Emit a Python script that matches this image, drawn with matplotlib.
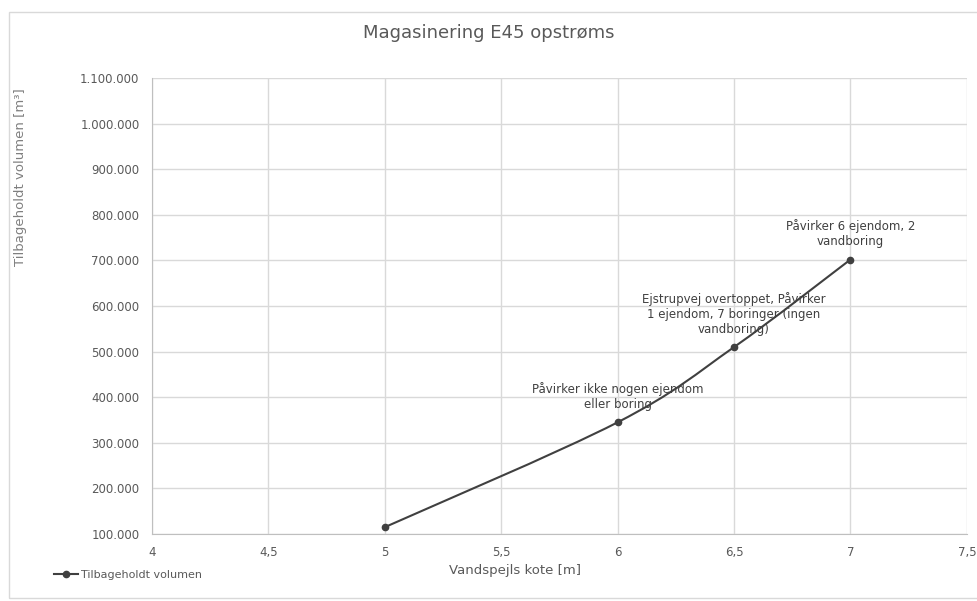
import matplotlib.pyplot as plt
import numpy as np
from matplotlib.path import Path
from matplotlib.patches import PathPatch, Rectangle
from matplotlib.ticker import FuncFormatter, MultipleLocator

# Data
kote = [5.0, 6.0, 6.5, 7.0]
volumen = [115000, 345000, 510000, 702000]
noter = ["", "Påvirker ikke nogen ejendom\neller boring",
         "Ejstrupvej overtoppet, Påvirker\n1 ejendom, 7 boringer (ingen\nvandboring)",
         "Påvirker 6 ejendom, 2\nvandboring"]

txt = '#595959'
grid = '#d9d9d9'
line = '#404040'

fig = plt.figure(figsize=(9.77, 6.01), dpi=100)
ax = fig.add_axes([0.1556, 0.1115, 0.834, 0.7585])

# smoothed line (bezier segments like a spreadsheet smoothed line)
x = np.array(kote)
y = np.array(volumen, dtype=float)
verts = [(x[0], y[0])]
codes = [Path.MOVETO]
for i in range(len(x) - 1):
    p0 = (x[max(i - 1, 0)], y[max(i - 1, 0)])
    p1 = (x[i], y[i])
    p2 = (x[i + 1], y[i + 1])
    p3 = (x[min(i + 2, len(x) - 1)], y[min(i + 2, len(x) - 1)])
    c1 = (p1[0] + (p2[0] - p0[0]) / 6, p1[1] + (p2[1] - p0[1]) / 6)
    c2 = (p2[0] - (p3[0] - p1[0]) / 6, p2[1] - (p3[1] - p1[1]) / 6)
    verts += [c1, c2, p2]
    codes += [Path.CURVE4] * 3
ax.add_patch(PathPatch(Path(verts, codes), fill=False, edgecolor=line, lw=1.5, zorder=3))
ax.plot(kote, volumen, 'o', color=line, ms=4.5, zorder=4)
h, = ax.plot([], [], '-o', color=line, lw=1.5, ms=4.5)

for xi, yi, n in zip(kote, volumen, noter):
    if n:
        ax.annotate(n, (xi, yi), xytext=(0, 8), textcoords='offset points',
                    ha='center', va='bottom', fontsize=8.5, color='#404040',
                    linespacing=1.2)

ax.set_xlim(4, 7.5)
ax.set_ylim(100000, 1100000)
ax.xaxis.set_major_locator(MultipleLocator(0.5))
ax.yaxis.set_major_locator(MultipleLocator(100000))
ax.xaxis.set_major_formatter(FuncFormatter(lambda v, p: f'{v:g}'.replace('.', ',')))
ax.yaxis.set_major_formatter(FuncFormatter(lambda v, p: f'{v:,.0f}'.replace(',', '.')))
ax.tick_params(length=0, labelsize=8.5, colors=txt, pad=9)
ax.grid(True, color=grid, lw=1)
ax.set_axisbelow(True)
for s in ['top', 'right']:
    ax.spines[s].set_visible(False)
for s in ['left', 'bottom']:
    ax.spines[s].set_color('#bfbfbf')

fig.text(0.5, 0.945, 'Magasinering E45 opstrøms', ha='center', va='center',
         fontsize=13, color=txt)
fig.text(0.527, 0.051, 'Vandspejls kote [m]', ha='center', va='center',
         fontsize=9.5, color=txt)
fig.text(0.021, 0.705, 'Tilbageholdt volumen [m³]', ha='center', va='center',
         rotation=90, fontsize=9.5, color='#7f7f7f')

fig.legend([h], ['Tilbageholdt volumen'], loc='center left',
           bbox_to_anchor=(0.045, 0.043), frameon=False, fontsize=8,
           labelcolor=txt, handlelength=2.2, handletextpad=0.2)

fig.patches.append(Rectangle((0.009, 0.005), 1.0, 0.975, transform=fig.transFigure,
                             fill=False, edgecolor=grid, lw=1))

fig.savefig('out.png', dpi=100)
